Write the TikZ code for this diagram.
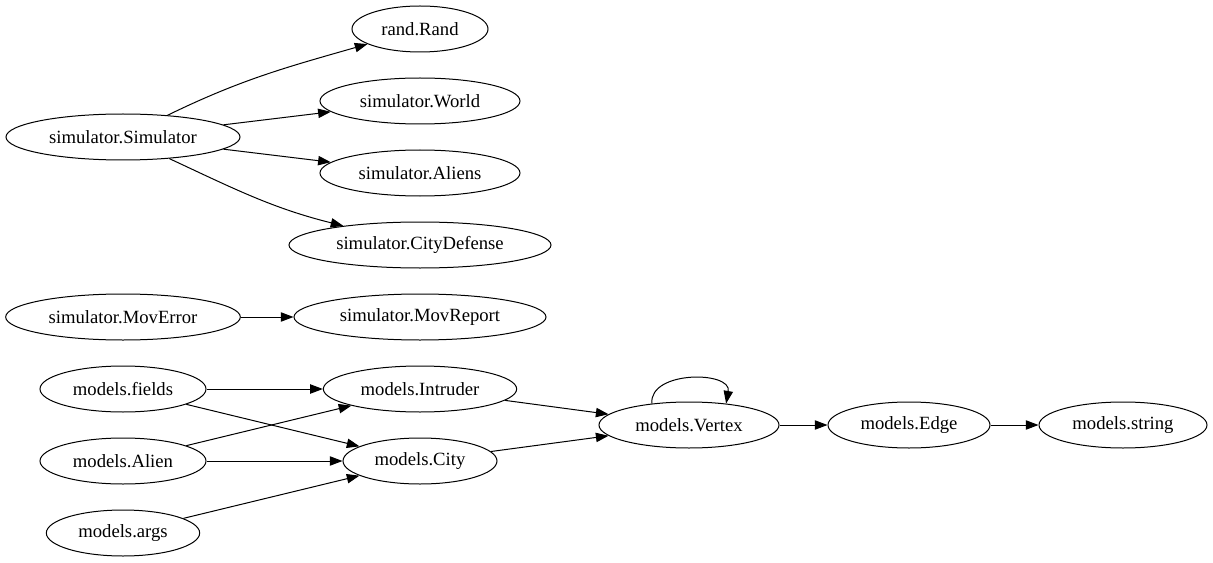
\documentclass[tikz,border=0pt]{standalone}
\usepackage{fontspec}
\setmainfont{Liberation Serif}
\usetikzlibrary{arrows.meta,shapes.geometric}
\begin{document}
\begin{tikzpicture}[x=0.75pt,y=-0.75pt,
  nd/.style={ellipse,draw,line width=0.75pt,inner sep=0pt,minimum height=34.5pt,font=\fontsize{14}{16}\selectfont},
  ed/.style={line width=0.75pt,-{Triangle[length=9.5pt,width=7pt]}}]
\useasboundingbox (0,0) rectangle (1213,563);
\node[nd,minimum width=102pt]   (rand)    at (420,29)  {rand.Rand};
\node[nd,minimum width=150pt]   (world)   at (420,101) {simulator.World};
\node[nd,minimum width=150pt]   (aliens)  at (420,173) {simulator.Aliens};
\node[nd,minimum width=196.5pt] (citydef) at (420,245) {simulator.CityDefense};
\node[nd,minimum width=175.5pt] (sim)     at (123,137) {simulator.Simulator};
\node[nd,minimum width=176pt]   (moverr)  at (123,317) {simulator.MovError};
\node[nd,minimum width=189pt]   (movrep)  at (420,317) {simulator.MovReport};
\node[nd,minimum width=124.5pt] (fields)  at (123,389) {models.fields};
\node[nd,minimum width=124.5pt] (alien)   at (123,461) {models.Alien};
\node[nd,minimum width=115pt]   (args)    at (123,533) {models.args};
\node[nd,minimum width=145pt]   (intr)    at (420,389) {models.Intruder};
\node[nd,minimum width=115.5pt] (city)    at (420,461) {models.City};
\node[nd,minimum width=135pt]   (vert)    at (689,425) {models.Vertex};
\node[nd,minimum width=121.5pt] (edge)    at (909,425) {models.Edge};
\node[nd,minimum width=126pt]   (str)     at (1123,425) {models.string};

\draw[ed] (sim) to[out=26,in=196] (rand);
\draw[ed] (sim) -- (world);
\draw[ed] (sim) -- (aliens);
\draw[ed] (sim) to[out=-25,in=166] (citydef);
\draw[ed] (moverr) -- (movrep);
\draw[ed] (fields) -- (intr);
\draw[ed] (fields) -- (city);
\draw[ed] (alien) -- (intr);
\draw[ed] (alien) -- (city);
\draw[ed] (args) -- (city);
\draw[ed] (intr) -- (vert);
\draw[ed] (city) -- (vert);
\draw[ed] (vert.150) to[out=95,in=80,distance=25pt] (vert.30);
\draw[ed] (vert) -- (edge);
\draw[ed] (edge) -- (str);
\end{tikzpicture}
\end{document}
